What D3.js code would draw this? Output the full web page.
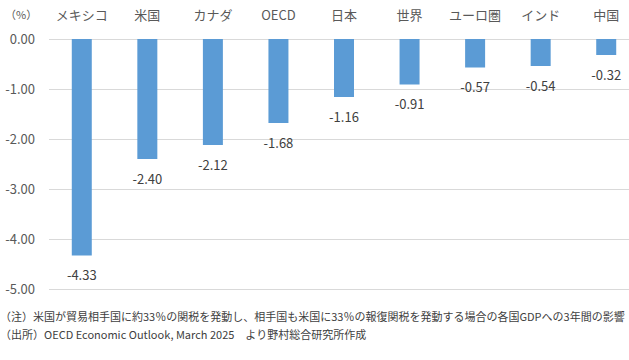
<!DOCTYPE html>
<html>
<head>
<meta charset="utf-8">
<script src="https://cdn.jsdelivr.net/npm/d3@7"></script>
<style>
  body { margin: 0; background: #fff; }
  text { font-family: "Noto Sans CJK JP", "Noto Sans", sans-serif; }
</style>
</head>
<body>
<div id="chart"></div>
<script>
// OECD estimate: 3-year GDP impact (%)
const categories = ["メキシコ", "米国", "カナダ", "OECD", "日本", "世界", "ユーロ圏", "インド", "中国"];
const values = [-4.33, -2.40, -2.12, -1.68, -1.16, -0.91, -0.57, -0.54, -0.32];
const yTicks = [0, -1, -2, -3, -4, -5];
const notes = [
    "（注）米国が貿易相手国に約33％の関税を発動し、相手国も米国に33％の報復関税を発動する場合の各国GDPへの3年間の影響",
    "（出所）OECD Economic Outlook, March 2025　より野村総合研究所作成"
];

const width = 629, height = 360;

const svg = d3.select("#chart")
    .append("svg")
    .attr("width", width)
    .attr("height", height);

const x = d3.scaleBand()
    .domain(categories)
    .range([49, 639])
    .paddingInner(0.695)
    .paddingOuter(0.3475);

const y = d3.scaleLinear()
    .domain([0, -5])
    .range([39, 289]);

// gridlines
svg.append("g")
    .selectAll("line")
    .data(yTicks)
    .enter()
    .append("line")
    .attr("x1", 49)
    .attr("x2", width)
    .attr("y1", d => Math.round(y(d)) + 0.5)
    .attr("y2", d => Math.round(y(d)) + 0.5)
    .attr("stroke", "#d9d9d9")
    .attr("stroke-width", 1);

// y axis labels
svg.append("g")
    .selectAll("text")
    .data(yTicks)
    .enter()
    .append("text")
    .attr("x", 35)
    .attr("y", d => y(d))
    .attr("dy", "0.35em")
    .attr("text-anchor", "end")
    .attr("font-size", 13)
    .attr("fill", "#595959")
    .text(d => d3.format(".2f")(d).replace("−", "-"));

svg.append("text")
    .attr("x", 5)
    .attr("y", 15)
    .attr("dy", "0.35em")
    .attr("font-size", 11)
    .attr("fill", "#595959")
    .text("（%）");

// category labels on top
svg.append("g")
    .selectAll("text")
    .data(categories)
    .enter()
    .append("text")
    .attr("x", d => x(d) + x.bandwidth() / 2)
    .attr("y", 15)
    .attr("dy", "0.35em")
    .attr("text-anchor", "middle")
    .attr("font-size", 13)
    .attr("fill", "#595959")
    .text(d => d);

// bars
svg.append("g")
    .selectAll("rect")
    .data(values)
    .enter()
    .append("rect")
    .attr("x", (d, i) => x(categories[i]))
    .attr("y", y(0))
    .attr("width", x.bandwidth())
    .attr("height", d => y(d) - y(0))
    .attr("fill", "#5b9bd5");

// value labels
svg.append("g")
    .selectAll("text")
    .data(values)
    .enter()
    .append("text")
    .attr("x", (d, i) => x(categories[i]) + x.bandwidth() / 2)
    .attr("y", d => y(d) + 20)
    .attr("dy", "0.35em")
    .attr("text-anchor", "middle")
    .attr("font-size", 13)
    .attr("fill", "#404040")
    .text(d => d3.format(".2f")(d).replace("−", "-"));

// footnotes
svg.append("g")
    .selectAll("text")
    .data(notes)
    .enter()
    .append("text")
    .attr("x", 0)
    .attr("y", (d, i) => 317 + i * 18)
    .attr("dy", "0.35em")
    .attr("font-size", 11)
    .attr("fill", "#404040")
    .text(d => d);
</script>
</body>
</html>
